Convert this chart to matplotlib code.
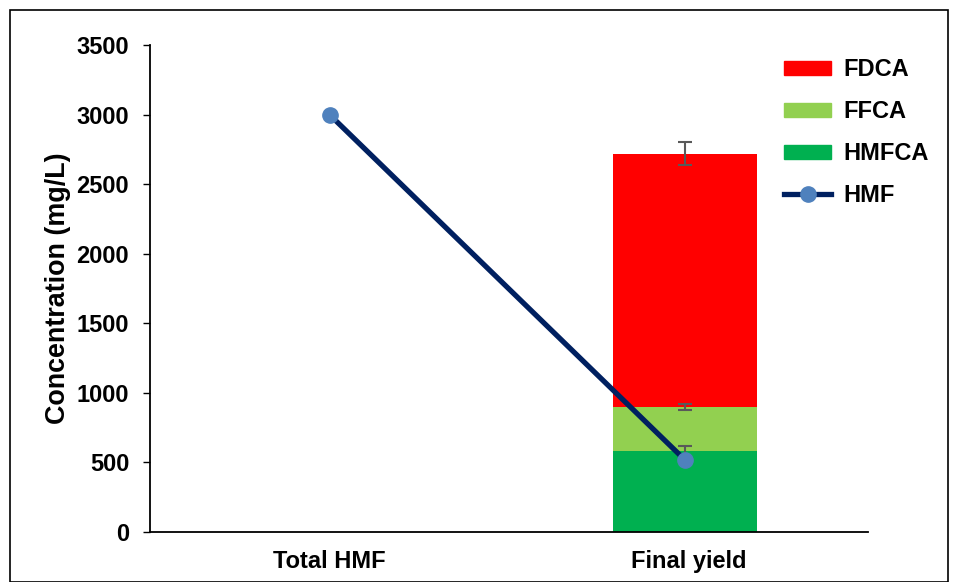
import matplotlib
matplotlib.use("Agg")
import matplotlib.pyplot as plt
from matplotlib.patches import Patch, Rectangle
from matplotlib.lines import Line2D
import numpy as np

plt.rcParams['font.family'] = ['Liberation Sans', 'DejaVu Sans']
plt.rcParams['font.weight'] = 'bold'

categories = ["Total HMF", "Final yield"]
hmfca = [0, 580]
ffca = [0, 320]
fdca = [0, 1820]
hmfca_err = [0, 35]
ffca_err = [0, 20]
fdca_err = [0, 85]
hmf = [3000, 518]
yticks = [0, 500, 1000, 1500, 2000, 2500, 3000, 3500]

fig = plt.figure(figsize=(9.56, 5.82), dpi=100)
ax = fig.add_axes([150/956, 1-532/582, 718/956, 487/582])

x = np.arange(len(categories))
bw = 0.4
c_hmfca, c_ffca, c_fdca = '#00B050', '#92D050', '#FF0000'
idx = [1]
xb = x[idx] - 0.01
h1 = np.array(hmfca)[idx]; h2 = np.array(ffca)[idx]; h3 = np.array(fdca)[idx]
ax.bar(xb, h1, bw, color=c_hmfca, zorder=2)
ax.bar(xb, h2, bw, bottom=h1, color=c_ffca, zorder=2)
ax.bar(xb, h3, bw, bottom=h1 + h2, color=c_fdca, zorder=2)
ekw = dict(fmt='none', ecolor='#595959', elinewidth=1.5, capsize=5, capthick=1.5, zorder=3)
ax.errorbar(xb, h1, yerr=np.array(hmfca_err)[idx], **ekw)
ax.errorbar(xb, h1 + h2, yerr=np.array(ffca_err)[idx], **ekw)
ax.errorbar(xb, h1 + h2 + h3, yerr=np.array(fdca_err)[idx], **ekw)

ax.plot(x - np.array([0, 0.01]), hmf, color='#002060', lw=3.8, marker='o', markersize=11,
        markerfacecolor='#4F81BD', markeredgecolor='#4F81BD', zorder=4)

ax.set_xlim(-0.5, 1.5)
ax.set_ylim(0, 3500)
ax.set_yticks(yticks)
ax.set_yticklabels([str(v) for v in yticks], fontsize=17, fontweight='bold')
ax.set_xticks(x)
ax.set_xticklabels(categories, fontsize=17, fontweight='bold')
ax.tick_params(axis='x', length=0, pad=13)
ax.tick_params(axis='y', length=5, width=1, pad=10)
for s in ['top', 'right']:
    ax.spines[s].set_visible(False)
for s in ['left', 'bottom']:
    ax.spines[s].set_linewidth(1.3)
ax.set_ylabel('Concentration (mg/L)', fontsize=19.4, fontweight='bold', labelpad=4)

handles = [Patch(color=c_fdca), Patch(color=c_ffca), Patch(color=c_hmfca),
           Line2D([0], [0], color='#002060', lw=3.8, marker='o', markersize=11,
                  markerfacecolor='#4F81BD', markeredgecolor='#4F81BD')]
ax.legend(handles, ['FDCA', 'FFCA', 'HMFCA', 'HMF'], loc='upper left',
          bbox_to_anchor=(763/956, 1-37/582), bbox_transform=fig.transFigure,
          frameon=False, prop={'size': 17, 'weight': 'bold'},
          handlelength=2.0, handleheight=0.55, labelspacing=0.8, handletextpad=0.5)

fig.patches.append(Rectangle((10/956, 0.0), 938/956, 1-10/582, transform=fig.transFigure,
                             fill=False, edgecolor='black', lw=1.2))
fig.savefig('out.png', dpi=100)
